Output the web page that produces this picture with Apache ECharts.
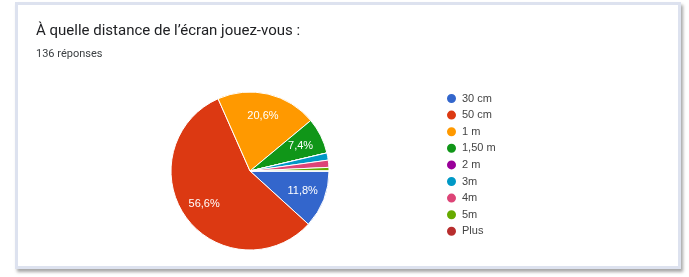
<!DOCTYPE html>
<html>
<head>
<meta charset="utf-8">
<script src="https://cdn.jsdelivr.net/npm/echarts@6/dist/echarts.min.js"></script>
<style>
body{margin:0;background:#fff;}
#card{position:absolute;left:15px;top:2px;width:660px;height:261px;border:3px solid #dde2ef;background:#fff;box-shadow:2px 3px 3px rgba(0,0,0,0.35);}
#chart{position:absolute;left:0;top:0;width:689px;height:277px;}
</style>
</head>
<body>
<div id="card"></div>
<div id="chart"></div>
<script>
var categories = ['30 cm','50 cm','1 m','1,50 m','2 m','3m','4m','5m','Plus']
var counts = [16,77,28,10,0,2,2,1,0]
var colors = ['#3366cc','#dc3912','#ff9900','#109618','#990099','#0099c6','#dd4477','#66aa00','#b82e2e']

var total = 0
for (var i in counts) total += counts[i]

var chartDom = document.getElementById('chart');
var myChart = echarts.init(chartDom);
var data = []
var labelData = []
for (var i = 0; i < categories.length; i++) {
    data.push({name: categories[i], value: counts[i], itemStyle: {color: colors[i]}})
    labelData.push({name: categories[i], value: counts[i]})
}
var option = {
    animation: false,
    title: {
        text: 'À quelle distance de l’écran jouez-vous :',
        subtext: '136 réponses',
        left: 31,
        top: 19,
        itemGap: 10,
        textStyle: {fontFamily: 'Roboto', fontSize: 15, fontWeight: 'normal', color: '#202124'},
        subtextStyle: {fontFamily: 'Roboto', fontSize: 11, color: '#3c4043'}
    },
    legend: {
        orient: 'vertical',
        left: 440,
        top: 87,
        icon: 'circle',
        itemWidth: 11,
        itemHeight: 11,
        itemGap: 3.6,
        textStyle: {fontFamily: 'Arial', fontSize: 11, color: '#444'},
        data: categories
    },
    series: [{
        type: 'pie',
        center: [250, 171],
        radius: [0, 79],
        startAngle: 0,
        clockwise: true,
        itemStyle: {borderColor: '#fff', borderWidth: 1},
        label: {show: false},
        labelLine: {show: false},
        data: data
    }, {
        // invisible ring only used to push labels further out
        type: 'pie',
        center: [250, 171],
        radius: [28, 79],
        startAngle: 0,
        clockwise: true,
        silent: true,
        itemStyle: {color: 'rgba(0,0,0,0)'},
        label: {
            position: 'inside',
            color: '#fff',
            fontFamily: 'Arial',
            fontSize: 11,
            formatter: function(p){
                var pct = p.value * 100 / total
                if (pct < 5) return ''
                return pct.toFixed(1).replace('.', ',') + '%'
            }
        },
        labelLine: {show: false},
        data: labelData
    }]
};
option && myChart.setOption(option);
</script>
</body>
</html>
